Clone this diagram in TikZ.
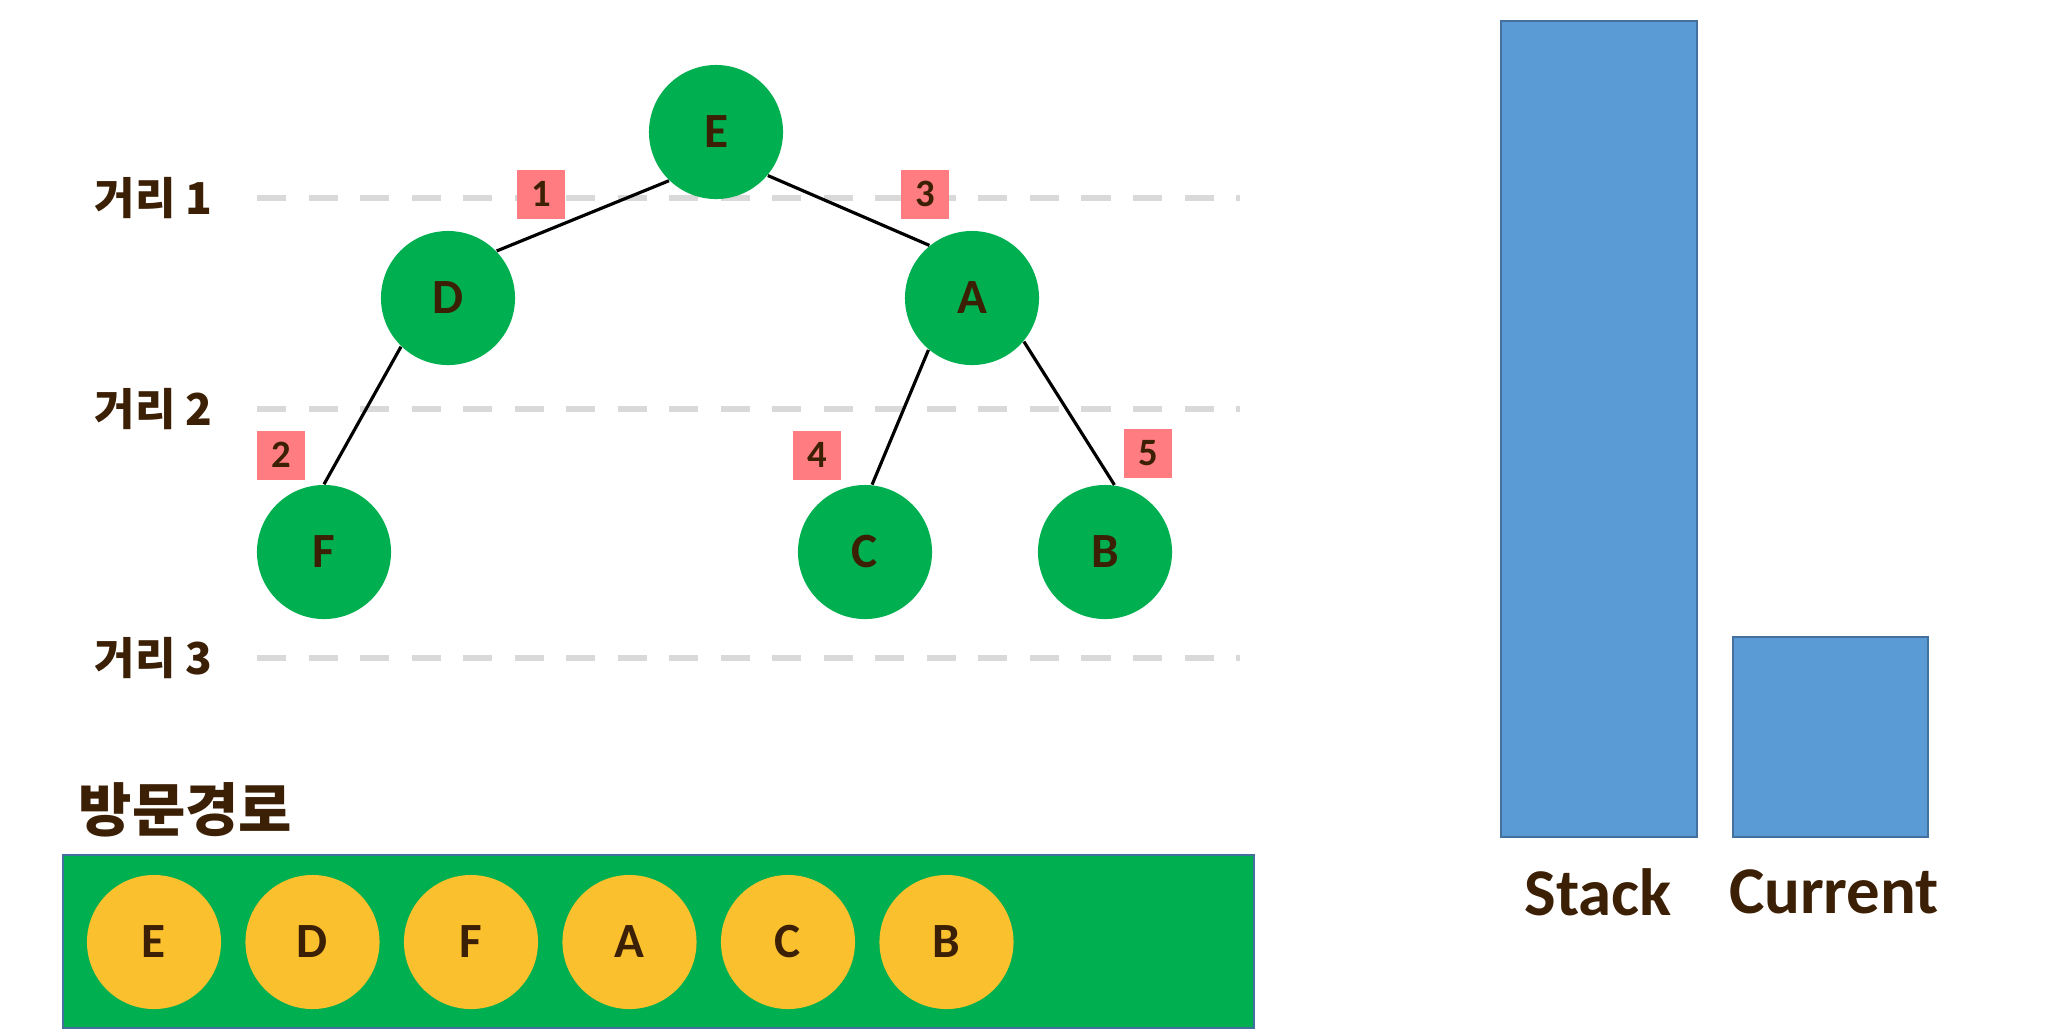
\documentclass[tikz,border=0pt]{standalone}
\usepackage{fontspec}
\setmainfont{Noto Sans CJK KR}
\newfontfamily\latinfont{Carlito}
\usetikzlibrary{positioning}
\definecolor{nodegreen}{RGB}{0,176,80}
\definecolor{pathyellow}{RGB}{251,192,45}
\definecolor{numpink}{RGB}{255,124,128}
\definecolor{barblue}{RGB}{91,155,213}
\definecolor{lineblue}{RGB}{65,113,156}
\definecolor{guidegray}{RGB}{217,217,217}
\definecolor{inkbrown}{RGB}{60,32,5}
\tikzset{
  tnode/.style={circle, fill=nodegreen, minimum size=1.34cm, inner sep=0pt,
                font=\latinfont\fontsize{14}{16}\selectfont\bfseries, text=inkbrown},
  pnode/.style={tnode, fill=pathyellow},
  numbox/.style={fill=numpink, minimum width=0.47cm, minimum height=0.49cm, inner sep=0pt,
                 font=\latinfont\fontsize{11}{13}\selectfont\bfseries, text=inkbrown},
  distlabel/.style={anchor=west, inner sep=0pt,
                    font=\fontsize{12.5}{14}\selectfont\bfseries, text=inkbrown},
  edge/.style={draw=black, line width=0.9pt},
  guide/.style={draw=guidegray, line width=1.7pt, dash pattern=on 0.29cm off 0.225cm},
  bar/.style={draw=lineblue, fill=barblue, line width=0.6pt, inner sep=0pt},
  barlabel/.style={inner sep=0pt, font=\latinfont\fontsize{19}{21}\selectfont\bfseries, text=inkbrown}
}

\begin{document}
\begin{tikzpicture}[x=0.01cm, y=-0.01cm, node distance=0.23cm]
  \useasboundingbox (0,0) rectangle (2048,1035);
  % distance levels
  \node[distlabel] (d1) at (94,198) {거리 1};
  \node[distlabel] (d2) at (94,409) {거리 2};
  \node[distlabel] (d3) at (94,658) {거리 3};
  \draw[guide] (257,198) -- (1240,198);
  \draw[guide] (257,409) -- (1240,409);
  \draw[guide] (257,658) -- (1240,658);
  % tree
  \node[tnode] (E) at (716,132) {E};
  \node[tnode] (D) at (448,298) {D};
  \node[tnode] (A) at (972,298) {A};
  \node[tnode] (F) at (324,552) {F};
  \node[tnode] (C) at (865,552) {C};
  \node[tnode] (B) at (1105,552) {B};
  \draw[edge] (E.226) -- (D.44);
  \draw[edge] (E.320) -- (A.129);
  \draw[edge] (D.226) -- (F.90);
  \draw[edge] (A.230) -- (C.84);
  \draw[edge] (A.320) -- (B.82);
  % visit order
  \node[numbox] (n1) at (541,194) {1};
  \node[numbox] (n2) at (281,455) {2};
  \node[numbox] (n3) at (925,194) {3};
  \node[numbox] (n4) at (817,455) {4};
  \node[numbox] (n5) at (1148,453) {5};
  % path
  \node[anchor=west, inner sep=0pt, font=\fontsize{16.5}{18}\selectfont\bfseries,
        text=inkbrown] (title) at (78,810) {방문경로};
  \node[draw=lineblue, fill=nodegreen, line width=0.6pt, minimum width=11.91cm,
        minimum height=1.73cm, inner sep=0pt] (path) at (658.5,941.5) {};
  \node[pnode] (p1) at (154,942) {E};
  \node[pnode, right=of p1] (p2) {D};
  \node[pnode, right=of p2] (p3) {F};
  \node[pnode, right=of p3] (p4) {A};
  \node[pnode, right=of p4] (p5) {C};
  \node[pnode, right=of p5] (p6) {B};
  % stack and current
  \node[bar, minimum width=1.96cm, minimum height=8.16cm] (stack) at (1599,429) {};
  \node[bar, minimum width=1.95cm, minimum height=2.00cm] (current) at (1830.5,737) {};
  \node[barlabel] (ls) at (1598,892) {Stack};
  \node[barlabel] (lc) at (1834,892) {Current};
\end{tikzpicture}
\end{document}
